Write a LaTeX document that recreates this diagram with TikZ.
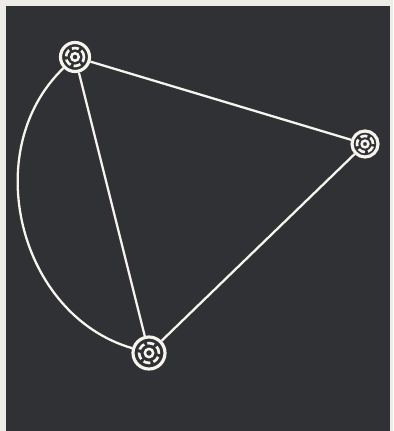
\documentclass[tikz,border=0pt]{standalone}
\usepackage{tikz}
\usetikzlibrary{calc}
\definecolor{PaperBg}{RGB}{238,236,230}
\definecolor{BoardBg}{RGB}{48,49,53}
\definecolor{ChalkLn}{RGB}{246,244,236}
\tikzset{
  nd_town/.style={
    circle, draw=ChalkLn, line width=1.8pt,
    fill=BoardBg, inner sep=0pt},
  rd/.style={draw=ChalkLn, line width=1.3pt},
}
\newcommand{\town}[4]{%
  \node[nd_town, minimum size=#4] at (#1,#2) (#3){};
  \draw[ChalkLn, line width=1.5pt, dash pattern=on 4pt off 1.8pt]
    (#3.center) circle[radius=0.31*#4];
  \draw[ChalkLn, line width=1.4pt] (#3.center) circle[radius=0.13*#4];
}

\begin{document}
\begin{tikzpicture}[x=0.02cm,y=-0.02cm]

\useasboundingbox (0,0) rectangle (393,431);
\fill[PaperBg] (0,0) rectangle (393,431);
\fill[BoardBg] (6,6) rectangle (390,431);

%% towns
\town{75}{57}{A}{0.58cm}
\town{365}{144}{B}{0.52cm}
\town{149}{353}{C}{0.64cm}

%% roads
\draw[rd] (A)--(B);
\draw[rd] (A)--(C);
\draw[rd] (B)--(C);
\draw[rd] (A) to[bend right=60, looseness=1.05] (C);

\end{tikzpicture}
\end{document}
